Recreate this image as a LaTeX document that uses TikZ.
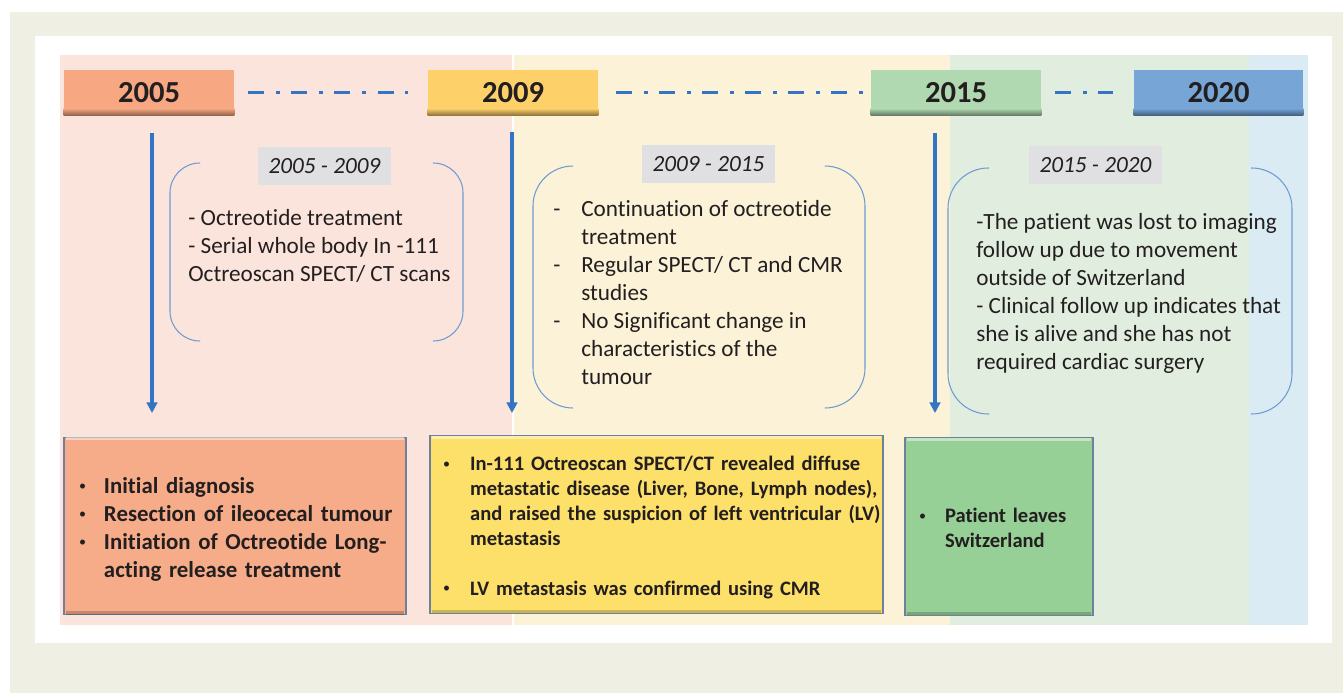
\documentclass[tikz,border=0pt]{standalone}
\usepackage{fontspec}
\setmainfont{Carlito}[Ligatures=NoCommon]
\usepackage{tikz}
\usetikzlibrary{arrows.meta}

\definecolor{beige}{HTML}{EFEFE4}
\definecolor{pinkbg}{HTML}{FBE4DC}
\definecolor{yellowbg}{HTML}{FCF2D7}
\definecolor{greenbg}{HTML}{E1EEDF}
\definecolor{bluebg}{HTML}{DAEBF3}
\definecolor{c2005}{HTML}{F7A883}
\definecolor{d2005}{HTML}{94634A}
\definecolor{c2009}{HTML}{FDD06A}
\definecolor{d2009}{HTML}{8F733A}
\definecolor{c2015}{HTML}{B1D9B1}
\definecolor{d2015}{HTML}{627A63}
\definecolor{c2020}{HTML}{76A5D6}
\definecolor{d2020}{HTML}{445F7E}
\definecolor{lineblue}{HTML}{3474C4}
\definecolor{bracketblue}{HTML}{6D9BD4}
\definecolor{labelgray}{HTML}{E0E0E2}
\definecolor{boxA}{HTML}{F6AC88}
\definecolor{boxB}{HTML}{FDE06A}
\definecolor{boxC}{HTML}{96D096}
\definecolor{boxedge}{HTML}{6E819C}
\definecolor{txt}{HTML}{231F20}

\newcommand{\evbullet}{\raisebox{0.12em}{\fontsize{8}{8}\selectfont\mdseries\textbullet}}
\newcommand{\evtext}[1]{\raisebox{-2pt}[\height][\depth]{#1}}

\begin{document}
\begin{tikzpicture}[x=0.02cm,y=-0.02cm,
  yearbox/.style={minimum height=0.9cm,inner sep=0pt,text=txt,font=\fontsize{17.4}{20}\selectfont\bfseries},
  period/.style={fill=labelgray,minimum width=2.66cm,minimum height=0.76cm,inner sep=0pt,text=txt,font=\fontsize{13.2}{15.9}\selectfont\itshape},
  notes/.style={anchor=west,align=left,inner sep=0pt,text=txt,font=\fontsize{13.2}{15.9}\selectfont},
  event/.style={draw=boxedge,line width=0.7pt,inner ysep=0pt,minimum height=3.55cm,align=left,text=txt},
  dashline/.style={lineblue,line width=1.9pt,dash pattern=on 9.1pt off 6.8pt on 2.3pt off 6.3pt},
  timearrow/.style={lineblue,line width=1.9pt,-{Triangle[width=6pt,length=6pt]}},
  bracket/.style={bracketblue,line width=0.6pt}]
%FRAME
\fill[white] (0,0) rectangle (1343,693);
\fill[beige] (10,12) rectangle (1343,693);
\fill[white] (35,36) rectangle (1332,643);
%PANELS
\fill[pinkbg] (60,55) rectangle (512,625);
\fill[yellowbg] (514,55) rectangle (950,625);
\fill[greenbg] (950,55) rectangle (1249,625);
\fill[bluebg] (1249,55) rectangle (1308,625);
%YEARS
\node[yearbox,fill=c2005,minimum width=3.4cm] (y2005) at (149,92.5) {2005};
\node[yearbox,fill=c2009,minimum width=3.4cm] (y2009) at (513,92.5) {2009};
\node[yearbox,fill=c2015,minimum width=3.4cm] (y2015) at (956,92.5) {2015};
\node[yearbox,fill=c2020,minimum width=3.38cm] (y2020) at (1218.5,92.5) {2020};
\shade[top color=c2005,bottom color=d2005] ([yshift=4pt]y2005.south west) rectangle (y2005.south east);
\shade[top color=c2009,bottom color=d2009] ([yshift=4pt]y2009.south west) rectangle (y2009.south east);
\shade[top color=c2015,bottom color=d2015] ([yshift=4pt]y2015.south west) rectangle (y2015.south east);
\shade[top color=c2020,bottom color=d2020] ([yshift=4pt]y2020.south west) rectangle (y2020.south east);
\draw[dashline,shorten <=8pt,shorten >=11.4pt] (y2005) -- (y2009);
\draw[dashline,shorten <=10.2pt,shorten >=4.6pt] (y2009) -- (y2015);
\draw[dashline,shorten <=8pt,shorten >=12pt] (y2015) -- (y2020);
%ARROWS
\coordinate (a2005) at (152,133);
\coordinate (e2005) at (152,413);
\coordinate (a2009) at (512,132);
\coordinate (e2009) at (512,413);
\coordinate (a2015) at (935,133);
\coordinate (e2015) at (935,413);
\draw[timearrow] (a2005) -- (e2005);
\draw[timearrow] (a2009) -- (e2009);
\draw[timearrow] (a2015) -- (e2015);
%PERIODS
\node[period] (p0509) at (324.5,166) {2005 - 2009};
\node[period] (p0915) at (708.5,164) {2009 - 2015};
\node[period] (p1520) at (1095.5,165) {2015 - 2020};
\draw[bracket,rounded corners=17pt] (200,163) -- (170,163) -- (170,341) -- (200,341);
\draw[bracket,rounded corners=17pt] (433,163) -- (463,163) -- (463,341) -- (433,341);
\draw[bracket,rounded corners=22.8pt] (573,166) -- (533,166) -- (533,408) -- (573,408);
\draw[bracket,rounded corners=22.8pt] (825,166) -- (865,166) -- (865,408) -- (825,408);
\draw[bracket,rounded corners=23pt] (989,168) -- (948,168) -- (948,414) -- (989,414);
\draw[bracket,rounded corners=23pt] (1251,168) -- (1292,168) -- (1292,414) -- (1251,414);
\node[notes] (n0509) at (188,246) {- Octreotide treatment\\- Serial whole body In -111\\Octreoscan SPECT/ CT scans};
\node[notes] (n0915) at (553,295) {\begin{tabular}{@{}p{15.9pt}@{}l@{}}
-&Continuation of octreotide\\
&treatment\\
-&Regular SPECT/ CT and CMR\\
&studies\\
-&No Significant change in\\
&characteristics of the\\
&tumour
\end{tabular}};
\node[notes] (n1520) at (976,293.5) {-The patient was lost to imaging\\follow up due to movement\\outside of Switzerland\\- Clinical follow up indicates that\\she is alive and she has not\\required cardiac surgery};
%EVENTS
\node[event,fill=boxA,inner xsep=0.3cm,text width=6.24cm,font=\fontsize{13}{15.9}\selectfont\bfseries] (ev2005) at (235,526) {\evtext{\begin{tabular}{@{}p{14.2pt}@{}l@{}}
\evbullet&Initial diagnosis\\
\evbullet&Resection of ileocecal tumour\\
\evbullet&Initiation of Octreotide Long-\\
&acting release treatment
\end{tabular}}};
\node[event,fill=boxB,inner xsep=0.26cm,text width=8.54cm,font=\fontsize{11.7}{14.2}\selectfont\bfseries] (ev2009) at (656.5,524.5) {\evtext{\begin{tabular}{@{}p{15.4pt}@{}l@{}}
\evbullet&In-111 Octreoscan SPECT/CT revealed diffuse\\
&metastatic disease (Liver, Bone, Lymph nodes),\\
&and raised the suspicion of left ventricular (LV)\\
&metastasis\\
&\\
\evbullet&LV metastasis was confirmed using CMR
\end{tabular}}};
\node[event,fill=boxC,inner xsep=0.28cm,text width=3.2cm,font=\fontsize{11.7}{14.2}\selectfont\bfseries] (ev2015) at (999,526.5) {\evtext{\begin{tabular}{@{}p{14.8pt}@{}l@{}}
\evbullet&Patient leaves\\
&Switzerland
\end{tabular}}};
\draw[white,opacity=0.45,line width=1.6pt] ([shift={(1.2pt,-1.2pt)}]ev2005.north west) -- ([shift={(-1.2pt,-1.2pt)}]ev2005.north east);
\draw[black,opacity=0.2,line width=2pt] ([shift={(1.2pt,1.4pt)}]ev2005.south west) -- ([shift={(-1.2pt,1.4pt)}]ev2005.south east);
\draw[white,opacity=0.45,line width=1.6pt] ([shift={(1.2pt,-1.2pt)}]ev2009.north west) -- ([shift={(-1.2pt,-1.2pt)}]ev2009.north east);
\draw[black,opacity=0.2,line width=2pt] ([shift={(1.2pt,1.4pt)}]ev2009.south west) -- ([shift={(-1.2pt,1.4pt)}]ev2009.south east);
\draw[white,opacity=0.45,line width=1.6pt] ([shift={(1.2pt,-1.2pt)}]ev2015.north west) -- ([shift={(-1.2pt,-1.2pt)}]ev2015.north east);
\draw[black,opacity=0.2,line width=2pt] ([shift={(1.2pt,1.4pt)}]ev2015.south west) -- ([shift={(-1.2pt,1.4pt)}]ev2015.south east);
\end{tikzpicture}
\end{document}
